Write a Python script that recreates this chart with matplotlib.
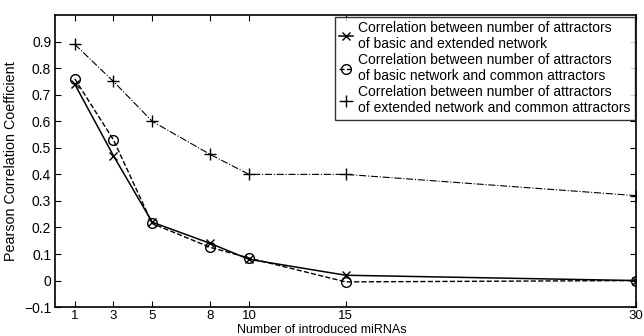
import matplotlib
matplotlib.use("Agg")
import matplotlib.pyplot as plt

plt.rcParams['font.family'] = ['Liberation Sans', 'DejaVu Sans']

x_vals = [1, 3, 5, 8, 10, 15, 30]
basic_ext = [0.74, 0.47, 0.22, 0.14, 0.08, 0.02, 0.0]
basic_common = [0.76, 0.53, 0.215, 0.125, 0.085, -0.005, 0.0]
ext_common = [0.89, 0.75, 0.60, 0.475, 0.40, 0.40, 0.32]
labels = [
    "Correlation between number of attractors\nof basic and extended network",
    "Correlation between number of attractors\nof basic network and common attractors",
    "Correlation between number of attractors\nof extended network and common attractors",
]
y_ticks = [-0.1, 0, 0.1, 0.2, 0.3, 0.4, 0.5, 0.6, 0.7, 0.8, 0.9]
y_ticklabels = ["\u22120.1", "0", "0.1", "0.2", "0.3", "0.4", "0.5", "0.6", "0.7", "0.8", "0.9"]

fig = plt.figure(figsize=(6.44, 3.36), dpi=100)
ax = fig.add_axes([0.086, 0.086, 0.902, 0.869])

ax.plot(x_vals, basic_ext, color='black', linestyle='-', marker='x', markersize=6,
        linewidth=1.1, label=labels[0])
ax.plot(x_vals, basic_common, color='black', linestyle='--', marker='o', markersize=7,
        markerfacecolor='none', linewidth=1.0, label=labels[1])
ax.plot(x_vals, ext_common, color='black', linestyle='-.', marker='+', markersize=8,
        linewidth=0.8, label=labels[2])

ax.set_xlim(0, 30)
ax.set_ylim(-0.1, 1.0)
ax.set_xticks(x_vals)
ax.set_xticklabels([str(v) for v in x_vals])
ax.set_yticks(y_ticks)
ax.set_yticklabels(y_ticklabels)
ax.tick_params(direction='in', top=True, right=True, labelsize=10, length=4, width=0.8)
ax.tick_params(axis='x', pad=2, labelsize=9.5)
ax.tick_params(axis='y', pad=3)
for s in ax.spines.values():
    s.set_linewidth(1.2)

ax.set_xlabel("Number of introduced miRNAs", fontsize=9)
ax.xaxis.set_label_coords(0.5, 0.0, transform=fig.transFigure)
ax.xaxis.label.set_va('bottom')
ax.set_ylabel("Pearson Correlation Coefficient", fontsize=10.3, labelpad=4)

leg = ax.legend(loc='upper right', fontsize=10, frameon=True, fancybox=False,
                edgecolor='black', handlelength=1.0, handletextpad=0.4,
                borderpad=0.3, labelspacing=0.15, borderaxespad=0.1)
leg.get_frame().set_linewidth(1.0)

fig.savefig("out.png", dpi=100)
